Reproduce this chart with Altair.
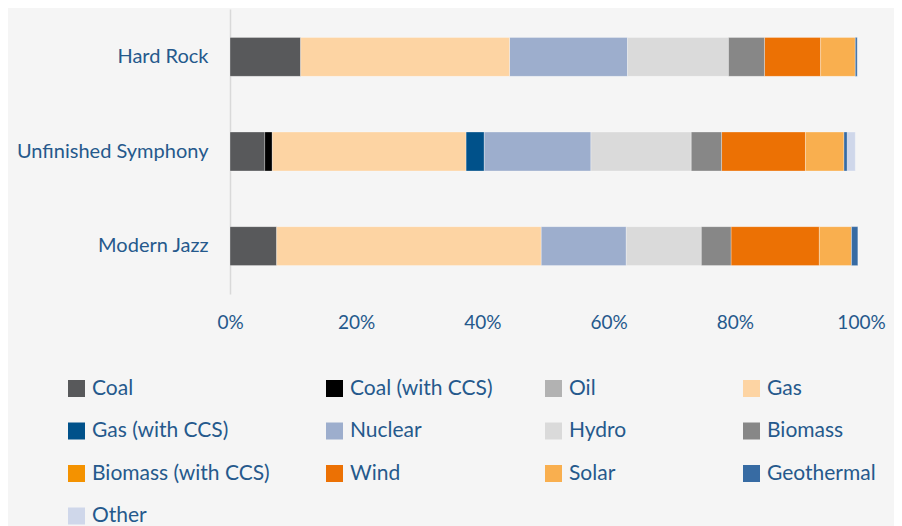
import altair as alt
import pandas as pd

scenarios = ["Hard Rock", "Unfinished Symphony", "Modern Jazz"]
sources = ["Coal", "Coal (with CCS)", "Oil", "Gas", "Gas (with CCS)", "Nuclear",
           "Hydro", "Biomass", "Biomass (with CCS)", "Wind", "Solar", "Geothermal", "Other"]
colors = ["#58595b", "#000000", "#b2b2b2", "#fdd4a3", "#00518a", "#9daecd",
          "#dadada", "#878787", "#f49200", "#ec7104", "#f9af4f", "#376ba3", "#cfd7ea"]

hard_rock = [11.2, 0, 0, 33.1, 0, 18.7, 16.0, 5.7, 0, 8.9, 5.5, 0.3, 0]
unfinished_symphony = [5.5, 1.2, 0, 30.7, 2.9, 16.9, 15.9, 4.8, 0, 13.3, 6.1, 0.5, 1.3]
modern_jazz = [7.4, 0, 0, 41.9, 0, 13.5, 11.9, 4.7, 0, 14.0, 5.1, 1.0, 0]

x_ticks = [0, 20, 40, 60, 80, 100]

rows = []
for scen, vals in zip(scenarios, [hard_rock, unfinished_symphony, modern_jazz]):
    for i, (src, v) in enumerate(zip(sources, vals)):
        rows.append({"scenario": scen, "source": src, "value": v, "order": i})
df = pd.DataFrame(rows)

TEXT = "#25598c"
FONT = "Lato"

# legend columns (row-major order of the reference legend, 4 columns)
legend_x = [67, 325, 544, 742]

base = alt.Chart(df).transform_stack(
    stack="value", groupby=["scenario"], as_=["start", "end"],
    sort=[alt.SortField("order", order="ascending")]
)

layers = []
for k in range(4):
    grp = sources[k::4]
    grp_colors = colors[k::4]
    layer = base.transform_filter(
        alt.FieldOneOfPredicate(field="source", oneOf=grp)
    ).transform_filter(
        alt.datum.value > 0
    ).mark_bar(stroke="#ffffff", strokeWidth=0.6, strokeOpacity=0.5).encode(
        x=alt.X("start:Q",
                scale=alt.Scale(domain=[0, 100], nice=False),
                axis=alt.Axis(values=x_ticks, labelExpr="datum.value + '%'", title=None,
                              grid=False, domain=False, ticks=False, labelPadding=19,
                              labelFlush=False,
                              labelFontSize=19, labelColor=TEXT, labelFont=FONT)),
        x2="end:Q",
        y=alt.Y("scenario:N", sort=scenarios,
                scale=alt.Scale(paddingInner=0.588, paddingOuter=0.3),
                axis=alt.Axis(title=None, ticks=False, domain=True, domainColor="#d9d9d9",
                              domainWidth=1.5, labelPadding=22, labelFontSize=20,
                              labelLimit=400,
                              labelColor=TEXT, labelFont=FONT)),
        color=alt.Color("source:N", scale=alt.Scale(domain=grp, range=grp_colors),
                        legend=alt.Legend(title=None, orient="none",
                                          legendX=legend_x[k] - 231, legendY=369,
                                          direction="vertical",
                                          rowPadding=20.5, symbolType="square",
                                          symbolSize=289,
                                          symbolStrokeWidth=0, symbolOpacity=1,
                                          labelOffset=5, labelLimit=400,
                                          labelFontSize=21, labelColor=TEXT,
                                          labelFont=FONT, padding=0)),
        tooltip=["scenario", "source", "value"]
    )
    layers.append(layer)

chart = alt.layer(*layers).resolve_scale(color="independent").properties(
    width=631, height=285,
    background="#f5f5f5",
    padding={"left": 222, "top": 1, "right": 33, "bottom": 240},
    autosize=alt.AutoSizeParams(type="none")
).configure_view(stroke=None)

chart.save("out.html", embed_options={"renderer": "svg", "actions": False})
